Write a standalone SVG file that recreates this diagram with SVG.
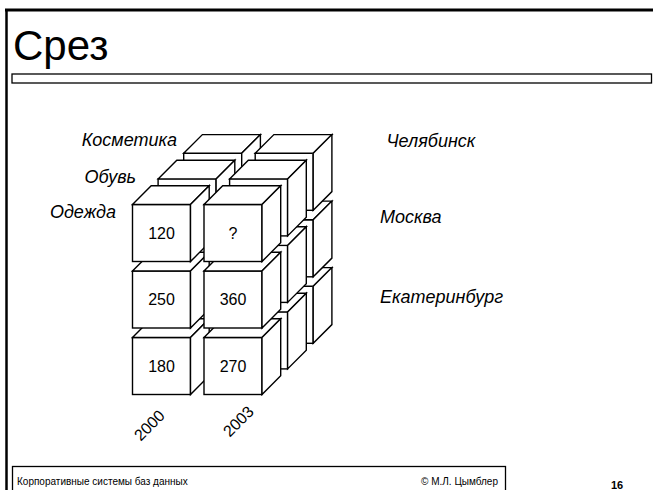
<svg xmlns="http://www.w3.org/2000/svg" xmlns:xlink="http://www.w3.org/1999/xlink" width="653" height="490" viewBox="0 0 653 490">
  <style>
    text { font-family: "Liberation Sans", Arial, sans-serif; fill: #000; }
    .title { font-size: 42px; }
    .axis { font-size: 18px; font-style: italic; }
    .val { font-size: 16px; text-anchor: middle; }
    .year { font-size: 16px; text-anchor: middle; }
    .foot { font-size: 10px; }
    .face { fill: #fff; stroke: #000; stroke-width: 1.4; stroke-linejoin: miter; }
  </style>
  <defs>
    <!-- one cell of the cube: front face, top face, right face -->
    <g id="cube">
      <rect class="face" x="0" y="0" width="58" height="57"/>
      <polygon class="face" points="0,0 18.7,-18.7 76.7,-18.7 58,0"/>
      <polygon class="face" points="58,0 76.7,-18.7 76.7,38.3 58,57"/>
    </g>
  </defs>

  <rect x="0" y="0" width="653" height="490" fill="#fff"/>

  <!-- slide frame -->
  <g id="frame" fill="none" stroke="#000">
    <line x1="5" y1="10" x2="653" y2="10" stroke-width="3"/>
    <line x1="6.5" y1="9" x2="6.5" y2="490" stroke-width="2.5"/>
    <rect x="12" y="74" width="639.5" height="9" fill="#fff" stroke-width="1.3"/>
    <rect x="12.5" y="466.5" width="493" height="30" fill="#fff" stroke-width="1.3"/>
  </g>

  <text class="title" x="13" y="60">Срез</text>

  <!-- back layer: Косметика -->
  <g id="cube-kosmetika-2000-ekb"><use xlink:href="#cube" x="183.7" y="286.3"/></g>
  <g id="cube-kosmetika-2003-ekb"><use xlink:href="#cube" x="255.2" y="286.3"/></g>
  <g id="cube-kosmetika-2000-msk"><use xlink:href="#cube" x="183.7" y="219.8"/></g>
  <g id="cube-kosmetika-2003-msk"><use xlink:href="#cube" x="255.2" y="219.8"/></g>
  <g id="cube-kosmetika-2000-chel"><use xlink:href="#cube" x="183.7" y="153.3"/></g>
  <g id="cube-kosmetika-2003-chel"><use xlink:href="#cube" x="255.2" y="153.3"/></g>

  <!-- middle layer: Обувь -->
  <g id="cube-obuv-2000-ekb"><use xlink:href="#cube" x="158.1" y="311.9"/></g>
  <g id="cube-obuv-2003-ekb"><use xlink:href="#cube" x="229.6" y="311.9"/></g>
  <g id="cube-obuv-2000-msk"><use xlink:href="#cube" x="158.1" y="245.4"/></g>
  <g id="cube-obuv-2003-msk"><use xlink:href="#cube" x="229.6" y="245.4"/></g>
  <g id="cube-obuv-2000-chel"><use xlink:href="#cube" x="158.1" y="178.9"/></g>
  <g id="cube-obuv-2003-chel"><use xlink:href="#cube" x="229.6" y="178.9"/></g>

  <!-- front layer: Одежда, with values -->
  <g id="cube-odezhda-2000-ekb"><use xlink:href="#cube" x="132.5" y="337.5"/><text class="val" x="161.5" y="371.5">180</text></g>
  <g id="cube-odezhda-2003-ekb"><use xlink:href="#cube" x="204" y="337.5"/><text class="val" x="233" y="371.5">270</text></g>
  <g id="cube-odezhda-2000-msk"><use xlink:href="#cube" x="132.5" y="271"/><text class="val" x="161.5" y="305">250</text></g>
  <g id="cube-odezhda-2003-msk"><use xlink:href="#cube" x="204" y="271"/><text class="val" x="233" y="305">360</text></g>
  <g id="cube-odezhda-2000-chel"><use xlink:href="#cube" x="132.5" y="204.5"/><text class="val" x="161.5" y="238.5">120</text></g>
  <g id="cube-odezhda-2003-chel"><use xlink:href="#cube" x="204" y="204.5"/><text class="val" x="233" y="238.5">?</text></g>

  <!-- axis labels -->
  <g id="labels-product">
    <text class="axis" x="177" y="146" text-anchor="end">Косметика</text>
    <text class="axis" x="136" y="183" text-anchor="end">Обувь</text>
    <text class="axis" x="116" y="218" text-anchor="end">Одежда</text>
  </g>
  <g id="labels-city">
    <text class="axis" x="386.5" y="146.5">Челябинск</text>
    <text class="axis" x="380" y="222.5">Москва</text>
    <text class="axis" x="380" y="303">Екатеринбург</text>
  </g>
  <g id="labels-year">
    <text class="year" transform="translate(149,425) rotate(-45)" y="6">2000</text>
    <text class="year" transform="translate(238,421) rotate(-45)" y="6">2003</text>
  </g>

  <!-- footer -->
  <text class="foot" x="17" y="485">Корпоративные системы баз данных</text>
  <text class="foot" x="498" y="485" text-anchor="end" font-size="10.5">© М.Л. Цымблер</text>
  <text x="611" y="489" font-size="11" font-weight="bold">16</text>
</svg>
